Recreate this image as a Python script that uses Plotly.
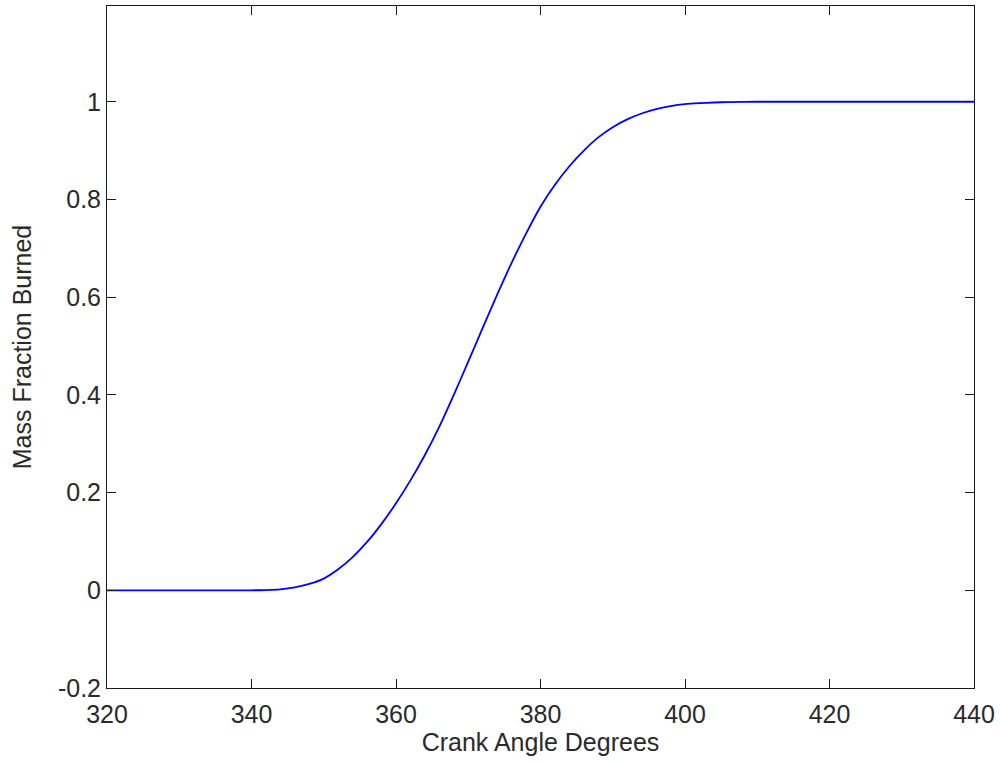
import plotly.graph_objects as go

crank_angle = [320, 330, 340, 342, 344, 346, 348, 350, 352, 354, 356, 358, 360, 362, 364, 366,
               368, 370, 372, 374, 376, 378, 380, 382, 384, 386, 388, 390, 392, 394, 396,
               398, 400, 402, 404, 406, 410, 420, 430, 440]
mass_fraction = [0, 0, 0, 0.0005, 0.002, 0.006, 0.013, 0.024, 0.043, 0.068, 0.099, 0.136, 0.178,
                 0.225, 0.277, 0.335, 0.40, 0.468, 0.537, 0.605, 0.67, 0.73, 0.785, 0.83,
                 0.868, 0.90, 0.927, 0.948, 0.964, 0.976, 0.985, 0.991, 0.995, 0.997, 0.9985,
                 0.9993, 1, 1, 1, 1]

x_ticks = [320, 340, 360, 380, 400, 420, 440]
y_ticks = [-0.2, 0, 0.2, 0.4, 0.6, 0.8, 1]
y_tick_text = ["-0.2", "0", "0.2", "0.4", "0.6", "0.8", "1"]

FONT = "Liberation Sans, Arial"
TXT = "#2a2a2a"

fig = go.Figure()
fig.add_trace(go.Scatter(x=crank_angle, y=mass_fraction, mode="lines",
                         line=dict(color="#0000FF", width=1.8, shape="spline", smoothing=0.6),
                         showlegend=False))

axis_common = dict(showgrid=False, zeroline=False, showline=True, linecolor="#1a1a1a",
                   linewidth=1, mirror="allticks", ticks="inside", ticklen=9,
                   tickcolor="#1a1a1a", tickwidth=1,
                   tickfont=dict(family=FONT, size=25, color=TXT))

fig.update_layout(
    width=1000, height=764,
    margin=dict(l=107, r=24, t=5, b=76),
    paper_bgcolor="white", plot_bgcolor="white",
    xaxis=dict(range=[320, 440], tickvals=x_ticks, ticklabelstandoff=4,
               title=dict(text="Crank Angle Degrees", standoff=6,
                          font=dict(family=FONT, size=25, color=TXT)),
               **axis_common),
    yaxis=dict(range=[-0.2, 1.196], tickvals=y_ticks, ticktext=y_tick_text, ticklabelstandoff=0,
               title=dict(text="Mass Fraction Burned", standoff=19,
                          font=dict(family=FONT, size=25, color=TXT)),
               **axis_common),
)

fig.write_html("out.html")
